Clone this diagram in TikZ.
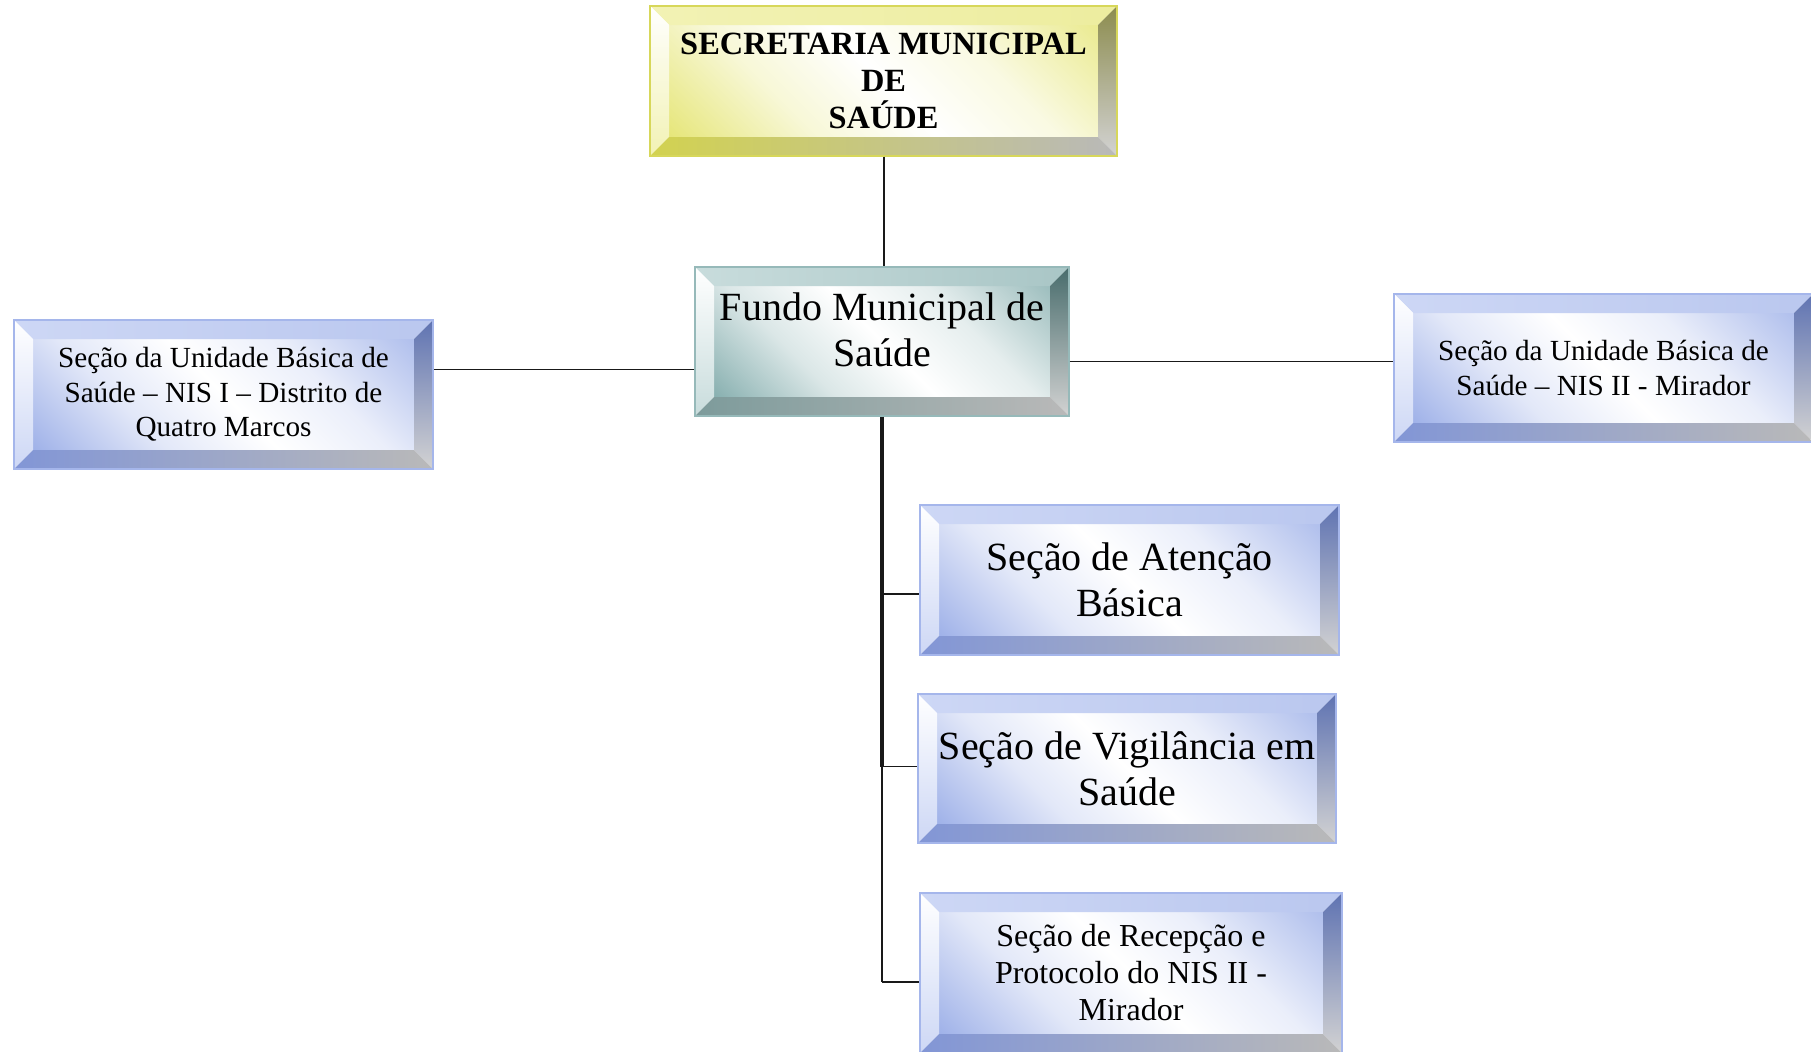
\documentclass[tikz,border=0pt]{standalone}
\usepackage{fontspec}
\setmainfont{Liberation Serif}
\usetikzlibrary{calc}

\definecolor{bluface}{RGB}{140,162,228}
\definecolor{blulight}{RGB}{205,215,245}
\definecolor{bludark}{RGB}{95,115,178}
\definecolor{blulow}{RGB}{130,150,214}
\definecolor{bluedge}{RGB}{165,182,235}
\definecolor{yelface}{RGB}{225,225,95}
\definecolor{yellight}{RGB}{242,242,180}
\definecolor{yeldark}{RGB}{140,140,78}
\definecolor{yellow}{RGB}{210,210,80}
\definecolor{yeledge}{RGB}{215,215,90}
\definecolor{teaface}{RGB}{112,160,160}
\definecolor{tealight}{RGB}{200,220,220}
\definecolor{teadark}{RGB}{72,108,108}
\definecolor{tealow}{RGB}{125,155,155}
\definecolor{teaedge}{RGB}{150,185,185}
\definecolor{linha}{RGB}{25,25,25}

\colorlet{banda}{blue}
\pgfdeclareverticalshading[banda]{faixa}{100bp}{color(0bp)=(banda); color(14bp)=(banda!85);
  color(34bp)=(banda!25); color(50bp)=(white); color(66bp)=(banda!18); color(86bp)=(banda!70);
  color(100bp)=(banda!90)}

\newcommand{\bevw}{9.5pt}
% bevelled frame, drawn inside the node
\newcommand{\bevelframe}[1]{%
  \path (path picture bounding box.south west) coordinate (bsw)
        (path picture bounding box.north east) coordinate (bne)
        (path picture bounding box.north west) coordinate (bnw)
        (path picture bounding box.south east) coordinate (bse);
  \colorlet{banda}{#1face}
  \shade[shading=faixa, shading angle=-45]
    ($(bsw)+(\bevw,\bevw)$) rectangle ($(bne)+(-\bevw,-\bevw)$);
  \shade[left color=#1light, right color=#1face!60]
    (bnw) -- (bne) -- ($(bne)+(-\bevw,-\bevw)$) -- ($(bnw)+(\bevw,-\bevw)$) -- cycle;
  \shade[top color=white, bottom color=#1light]
    (bnw) -- ($(bnw)+(\bevw,-\bevw)$) -- ($(bsw)+(\bevw,\bevw)$) -- (bsw) -- cycle;
  \shade[top color=#1dark, bottom color=gray!35]
    (bne) -- (bse) -- ($(bse)+(-\bevw,\bevw)$) -- ($(bne)+(-\bevw,-\bevw)$) -- cycle;
  \shade[left color=#1low, right color=gray!55]
    (bsw) -- ($(bsw)+(\bevw,\bevw)$) -- ($(bse)+(-\bevw,\bevw)$) -- (bse) -- cycle;
}

\tikzset{
  caixa/.style={rectangle, draw=#1edge, line width=0.6pt, inner sep=0pt, align=center,
    path picture={\bevelframe{#1}}},
  ligacao/.style={draw=linha, line width=0.7pt},
}

\begin{document}
\begin{tikzpicture}[x=0.5pt,y=-0.5pt]
\useasboundingbox (0,0) rectangle (1811,1051);
\fill[white] (0,0) rectangle (1811,1051);
\clip (0,0) rectangle (1811,1051);

% top and fund
\node[caixa=yel, minimum width=233.5pt, minimum height=75pt,
  font=\fontsize{16.2}{18.3}\selectfont\bfseries] (sec) at (883.5,81)
  {SECRETARIA MUNICIPAL\\DE\\SAÚDE};
\node[caixa=tea, minimum width=187pt, minimum height=74.5pt, text depth=12pt,
  font=\fontsize{20}{23}\selectfont] (fundo) at (882,341.5)
  {Fundo Municipal de\\Saúde};

% side sections
\node[caixa=blu, minimum width=209.5pt, minimum height=74.5pt,
  font=\fontsize{14.6}{17.3}\selectfont] (nisI) at (223.5,394.5)
  {Seção da Unidade Básica de\\Saúde – NIS I – Distrito de\\Quatro Marcos};
\node[caixa=blu, minimum width=209.5pt, minimum height=74pt,
  font=\fontsize{14.6}{17.3}\selectfont] (nisII) at (1603.5,368)
  {Seção da Unidade Básica de\\Saúde – NIS II - Mirador};

% lower sections
\node[caixa=blu, minimum width=209.5pt, minimum height=75pt,
  font=\fontsize{20}{23}\selectfont] (aten) at (1129.5,580)
  {Seção de Atenção\\Básica};
\node[caixa=blu, minimum width=209pt, minimum height=74.5pt,
  font=\fontsize{20}{23}\selectfont] (vigi) at (1127,768.5)
  {Seção de Vigilância em\\Saúde};
\node[caixa=blu, minimum width=211pt, minimum height=80pt,
  font=\fontsize{16}{18.5}\selectfont] (recep) at (1131,973)
  {Seção de Recepção e\\Protocolo do NIS II -\\Mirador};

% connectors
\draw[ligacao, line width=1pt] (sec.south) -- (sec.south |- fundo.north);
\draw[ligacao, line width=0.6pt] ([yshift=-14pt]fundo.west) -- ([yshift=-14pt]fundo.west -| nisI.east);
\draw[ligacao, line width=0.6pt] ([yshift=-10pt]fundo.east) -- ([yshift=-10pt]fundo.east -| nisII.west);

\coordinate (jA) at ([yshift=-7pt]aten.west -| fundo.south);
\coordinate (jV) at ([yshift=1pt]vigi.west -| fundo.south);
\coordinate (jR) at ([yshift=-4.5pt]recep.west -| fundo.south);
\draw[ligacao, line width=1.8pt] (fundo.south) -- (jV);
\draw[ligacao] (jV) -- (jR);
\draw[ligacao] (jA) -- (jA -| aten.west);
\draw[ligacao] (jV) -- (jV -| vigi.west);
\draw[ligacao] (jR) -- (jR -| recep.west);
\end{tikzpicture}
\end{document}
